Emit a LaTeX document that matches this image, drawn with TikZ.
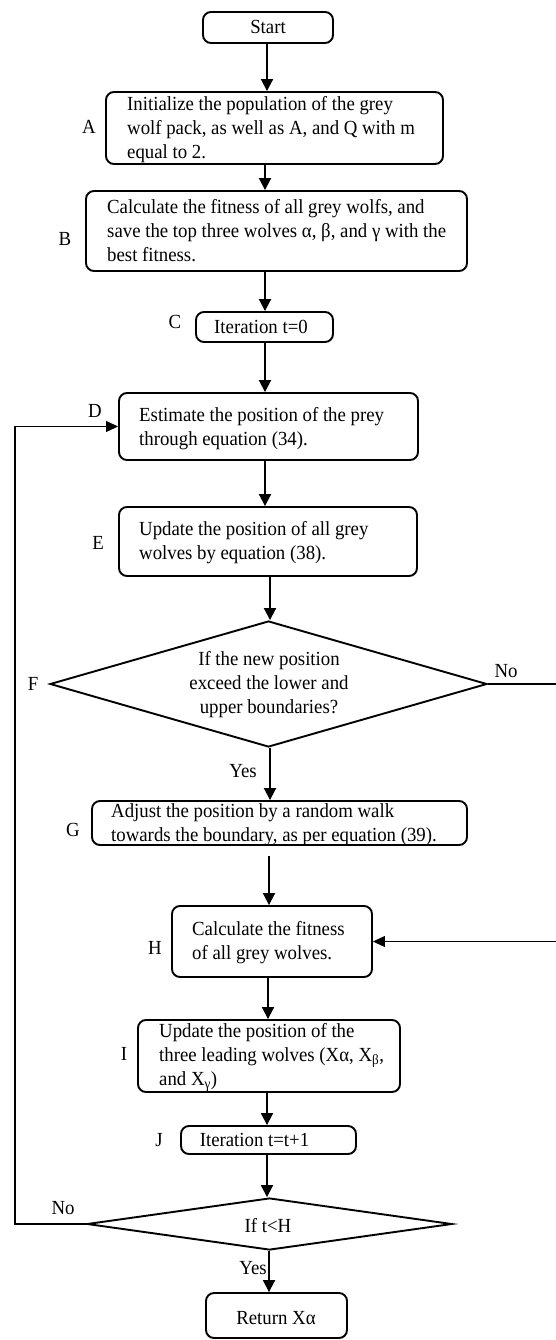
\documentclass[tikz,border=0pt]{standalone}
\usepackage{fontspec}
\setmainfont{Liberation Serif}[FakeStretch=0.94]
\usetikzlibrary{shapes.geometric,arrows.meta}
\begin{document}
\begin{tikzpicture}[x=1pt,y=-1pt,
  font=\fontsize{20}{24}\selectfont,
  box/.style={draw, line width=1.9pt, rounded corners=8pt, inner sep=0},
  dia/.style={diamond, draw, line width=1.9pt, inner sep=0},
  txt/.style={inner sep=0, align=left, anchor=west},
  ctxt/.style={inner sep=0, align=center},
  lbl/.style={inner sep=0},
  arr/.style={line width=1.9pt, -{Triangle[width=12pt,length=12pt]}},
  fb/.style={line width=1.1pt, -{Triangle[width=11pt,length=12pt]}}]
\useasboundingbox (0,0) rectangle (555,1340);
% boxes
\node[box, minimum width=130pt, minimum height=31pt] (S) at (268,27.5) {};
\node[ctxt] (St) at (268,27) {Start};
\node[box, minimum width=337pt, minimum height=72pt] (A) at (274.5,128) {};
\node[txt] (At) at (127,130) {Initialize the population of the grey\\wolf pack, as well as A, and Q with m\\equal to 2.};
\node[box, minimum width=381pt, minimum height=80pt] (B) at (276.5,231) {};
\node[txt] (Bt) at (107,231) {Calculate the fitness of all grey wolfs, and\\save the top three wolves α, β, and γ with the\\best fitness.};
\node[box, minimum width=137pt, minimum height=30pt] (C) at (264.5,327) {};
\node[ctxt] (Ct) at (261,327) {Iteration t=0};
\node[box, minimum width=299pt, minimum height=67pt] (D) at (268.5,426.5) {};
\node[txt] (Dt) at (139,429) {Estimate the position of the prey\\through equation (34).};
\node[box, minimum width=298pt, minimum height=69pt] (E) at (268,541.5) {};
\node[txt] (Et) at (139,543) {Update the position of all grey\\wolves by equation (38).};
\node[dia, minimum width=437pt, minimum height=126pt] (F) at (268.5,684) {};
\node[ctxt] (Ft) at (269,685) {If the new position\\exceed the lower and\\upper boundaries?};
\node[box, minimum width=375pt, minimum height=44pt] (G) at (279.5,823) {};
\node[txt] (Gt) at (111,824.5) {Adjust the position by a random walk\\towards the boundary, as per equation (39).};
\node[box, minimum width=200pt, minimum height=71pt] (H) at (272,941.5) {};
\node[txt] (Ht) at (192,942.5) {Calculate the fitness\\of all grey wolves.};
\node[box, minimum width=262pt, minimum height=72pt] (I) at (269,1056) {};
\node[txt] (It) at (159,1057) {Update the position of the\\three leading wolves (Xα, X\textsubscript{β},\\and X\textsubscript{γ})};
\node[box, minimum width=175pt, minimum height=28pt] (J) at (268.5,1140) {};
\node[ctxt] (Jt) at (254.5,1140) {Iteration t=t+1};
\node[dia, minimum width=365pt, minimum height=52pt] (K) at (269.5,1224) {};
\node[ctxt] (Kt) at (268,1226) {If t<H};
\node[box, minimum width=141pt, minimum height=45pt] (R) at (276.5,1315.5) {};
\node[ctxt] (Rt) at (276,1318) {Return Xα};
% letters
\node[lbl] (lA) at (89,127) {A};
\node[lbl] (lB) at (65,239) {B};
\node[lbl] (lC) at (175,322) {C};
\node[lbl] (lD) at (95,411) {D};
\node[lbl] (lE) at (98,543) {E};
\node[lbl] (lF) at (33,684) {F};
\node[lbl] (lG) at (73,830) {G};
\node[lbl] (lH) at (155,948) {H};
\node[lbl] (lI) at (124,1054) {I};
\node[lbl] (lJ) at (159,1140) {J};
\node[lbl] (no1) at (506,671) {No};
\node[lbl] (yes1) at (243,771) {Yes};
\node[lbl] (no2) at (63,1208) {No};
\node[lbl] (yes2) at (253,1268) {Yes};
% arrows
\draw[arr] (S.south -| 267,0) -- (A.north -| 267,0);
\draw[arr] (A.south -| 265,0) -- (B.north -| 265,0);
\draw[arr] (B.south -| 265,0) -- (C.north -| 265,0);
\draw[arr] (C.south -| 265,0) -- (D.north -| 265,0);
\draw[arr] (D.south -| 265,0) -- (E.north -| 265,0);
\draw[arr] (E.south -| 270,0) -- (F.north -| 270,0);
\draw[arr] (F.south -| 270,0) -- (G.north -| 270,0);
\draw[arr, shorten <=10pt] (G.south -| 269,0) -- (H.north -| 269,0);
\draw[arr] (H.south -| 268,0) -- (I.north -| 268,0);
\draw[arr] (I.south -| 267,0) -- (J.north -| 267,0);
\draw[arr] (J.south -| 267,0) -- (K.north -| 267,0);
\draw[arr] (K.south -| 269,0) -- (R.north -| 269,0);
% loops
\coordinate (lft) at (15,0);
\coordinate (rgt) at (557,0);
\draw[fb] (K.west) -- (K.west -| lft) |- (D.west);
\draw[fb] (F.east) -- (F.east -| rgt) |- (H.east);
\end{tikzpicture}
\end{document}
